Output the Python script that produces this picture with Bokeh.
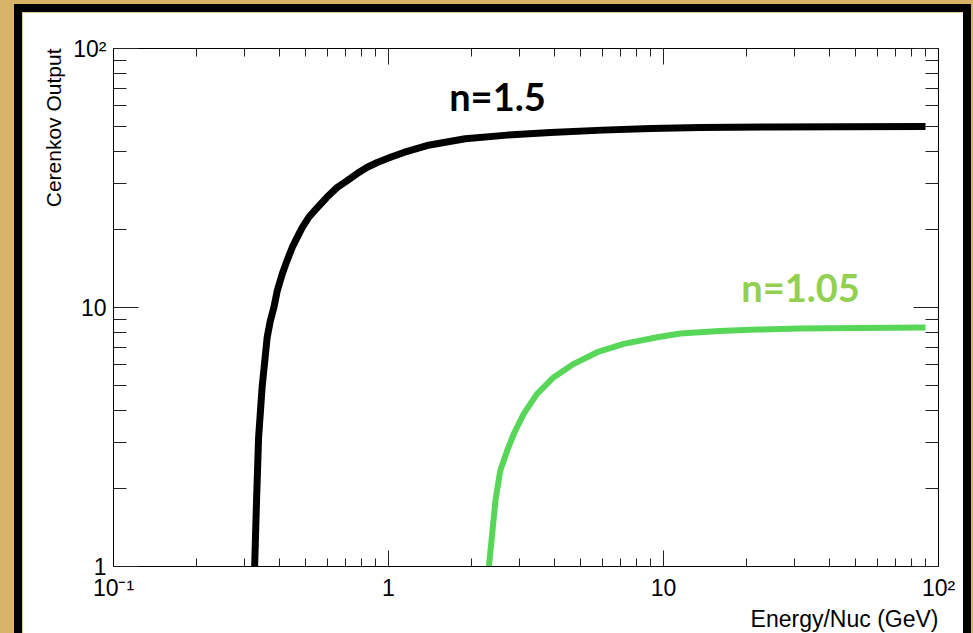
from bokeh.plotting import figure
from bokeh.models import (LogAxis, Label, CustomJSTickFormatter, LogTicker, Title)
from bokeh.layouts import column
from bokeh.embed import file_html
from bokeh.resources import INLINE

# ---------------- data ----------------
energy_n150 = [0.326, 0.331, 0.337, 0.347, 0.362, 0.372, 0.383, 0.394, 0.411,
               0.428, 0.447, 0.466, 0.486, 0.513, 0.551, 0.598, 0.651, 0.708,
               0.769, 0.837, 0.910, 1.017, 1.137, 1.38, 1.9, 2.7, 3.88, 6.0,
               9.0, 13.6, 25.0, 45.0, 89.7]
output_n150 = [1.0, 1.75, 3.15, 4.91, 7.66, 8.91, 10.0, 11.6, 13.5,
               15.2, 17.1, 18.7, 20.4, 22.3, 24.3, 26.7, 29.1, 30.9,
               32.9, 34.8, 36.3, 38.0, 39.7, 42.2, 44.8, 46.3, 47.4, 48.4,
               49.1, 49.5, 49.8, 49.9, 50.0]

energy_n105 = [2.317, 2.383, 2.449, 2.55, 2.70, 2.855, 3.105, 3.47, 3.99,
               4.72, 5.74, 7.17, 9.49, 11.5, 16.0, 22.0, 31.5, 50.0, 89.7]
output_n105 = [1.0, 1.34, 1.80, 2.35, 2.80, 3.25, 3.89, 4.64, 5.38,
               6.06, 6.72, 7.24, 7.68, 7.94, 8.12, 8.22, 8.30, 8.34, 8.37]

x_tick_vals = [0.1, 1, 10, 100]
x_tick_labels = ["10\u207b\u00b9", "1", "10", "10\u00b2"]
y_tick_vals = [1, 10, 100]
y_tick_labels = ["1", "10", "10\u00b2"]

x_title = "Energy/Nuc (GeV)"
y_title = "Cerenkov Output"
label_n150 = "n=1.5"
label_n105 = "n=1.05"

# ---------------- figure ----------------
W, H = 941, 621
p = figure(width=W, height=H, x_axis_type="log", y_axis_type="log",
           x_range=(0.1, 100), y_range=(1, 100),
           output_backend="svg", toolbar_location=None,
           min_border_left=91, min_border_right=25,
           min_border_top=36, min_border_bottom=67,
           background_fill_color="white", border_fill_color="white",
           margin=(12, 10, 0, 22),
           styles={"outline": "8px solid black"})
p.grid.visible = False
p.outline_line_color = "black"
p.outline_line_width = 1


def fmt(vals, labs):
    return CustomJSTickFormatter(args=dict(vals=vals, labs=labs), code="""
        for (let i = 0; i < vals.length; i++) {
            if (Math.abs(Math.log10(tick) - Math.log10(vals[i])) < 1e-6) return labs[i];
        }
        return "";
    """)


FONT = "Liberation Sans"
for ax in p.xaxis:
    ax.ticker = LogTicker(num_minor_ticks=10)
    ax.formatter = fmt(x_tick_vals, x_tick_labels)
    ax.major_tick_in, ax.major_tick_out = 16, 0
    ax.minor_tick_in, ax.minor_tick_out = 8, 0
    ax.major_label_text_font = FONT
    ax.major_label_text_font_size = "23px"
    ax.major_label_text_color = "black"
    ax.major_label_standoff = 8
    ax.axis_line_color = "black"
    ax.major_tick_line_color = "#222222"
    ax.minor_tick_line_color = "#222222"
for ax in p.yaxis:
    ax.ticker = LogTicker(num_minor_ticks=10)
    ax.formatter = fmt(y_tick_vals, y_tick_labels)
    ax.major_tick_in, ax.major_tick_out = 25, 0
    ax.minor_tick_in, ax.minor_tick_out = 13, 0
    ax.major_label_text_font = FONT
    ax.major_label_text_font_size = "23px"
    ax.major_label_text_color = "black"
    ax.major_label_standoff = 7
    ax.axis_line_color = "black"
    ax.major_tick_line_color = "#222222"
    ax.minor_tick_line_color = "#222222"

top = LogAxis(ticker=LogTicker(num_minor_ticks=10),
              major_label_text_font_size="8px", major_label_text_alpha=0,
              major_label_standoff=0,
              major_tick_in=16, major_tick_out=0, minor_tick_in=8, minor_tick_out=0,
              axis_line_color="black", major_tick_line_color="#222222",
              minor_tick_line_color="#222222")
right = LogAxis(ticker=LogTicker(num_minor_ticks=10),
                major_label_text_font_size="8px", major_label_text_alpha=0,
                major_label_standoff=0,
                major_tick_in=25, major_tick_out=0, minor_tick_in=13, minor_tick_out=0,
                axis_line_color="black", major_tick_line_color="#222222",
                minor_tick_line_color="#222222")
p.add_layout(top, "above")
p.add_layout(right, "right")

# curves
p.line(energy_n150, output_n150, line_color="black", line_width=7,
       line_join="round")
p.line(energy_n105, output_n105, line_color="#57d657", line_width=6,
       line_join="round")

# axis titles
p.add_layout(Title(text=x_title, align="right", text_font=FONT,
                   text_font_size="23px", text_font_style="normal",
                   text_color="black", standoff=1), "below")
p.add_layout(Title(text=y_title, align="right", text_font=FONT,
                   text_font_size="21px", text_font_style="normal",
                   text_color="black", standoff=12), "left")

# curve annotations
p.add_layout(Label(x=2.49, y=65.3, text=label_n150, text_align="center",
                   text_baseline="middle", text_font="Lato", text_font_style="bold",
                   text_font_size="38px", text_color="black"))
p.add_layout(Label(x=31.5, y=12.05, text=label_n105, text_align="center",
                   text_baseline="middle", text_font="Lato", text_font_style="bold",
                   text_font_size="38px", text_color="#92d050"))

layout = column(p, width=973, height=633,
                styles={"background-color": "#d8b469", "overflow": "hidden"})

open("out.html", "w").write(file_html(layout, INLINE))
